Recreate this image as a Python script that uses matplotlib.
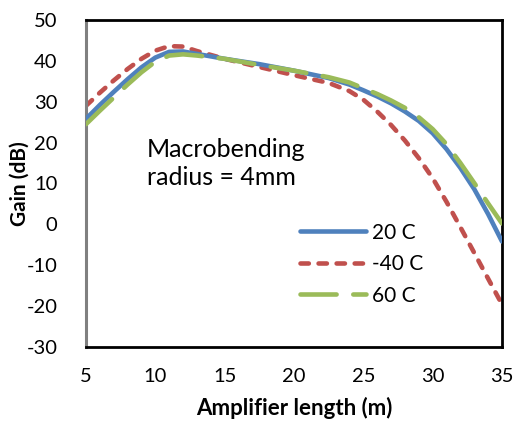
import matplotlib
matplotlib.use("Agg")
import matplotlib.pyplot as plt

plt.rcParams['font.family'] = ['Lato', 'DejaVu Sans']
plt.rcParams['lines.scale_dashes'] = False
plt.rcParams['axes.unicode_minus'] = False

length = [5, 6, 7, 8, 9, 10, 11, 12, 13, 15, 17.5, 20, 22.5, 24, 25, 26, 27, 28, 29, 30, 31, 32, 33, 34, 35]
gain_20C = [25.8, 29.2, 32.4, 35.5, 38.4, 40.8, 42.2, 42.3, 41.7, 40.5, 39.2, 37.6, 35.8, 34.2, 32.8,
            31.3, 29.6, 27.6, 25.3, 22.3, 18.4, 13.8, 8.6, 2.5, -4.2]
gain_m40C = [29.0, 32.2, 35.2, 38.0, 40.5, 42.5, 43.6, 43.5, 42.4, 40.5, 38.5, 36.5, 34.6, 32.6, 30.5,
             27.6, 24.3, 20.5, 16.2, 11.3, 5.5, -0.7, -7.0, -13.3, -19.6]
gain_60C = [24.5, 27.8, 31.0, 34.2, 37.2, 39.8, 41.3, 41.6, 41.3, 40.5, 39.0, 37.6, 36.0, 34.7, 33.3,
            31.9, 30.3, 28.5, 26.2, 23.3, 19.6, 15.0, 10.1, 5.1, 0.2]
labels = ["20 C", "-40 C", "60 C"]
xticks = [5, 10, 15, 20, 25, 30, 35]
yticks = [-30, -20, -10, 0, 10, 20, 30, 40, 50]

fig = plt.figure(figsize=(5.21, 4.23), dpi=100)
ax = fig.add_axes([0.165, 0.18, 0.7985, 0.7727])

ax.plot(length, gain_20C, color='#4F81BD', lw=3.3, solid_capstyle='round', solid_joinstyle='round',
        label=labels[0], zorder=3)
ax.plot(length, gain_m40C, color='#C0504D', lw=3.3, linestyle=(0, (6, 7)), dash_capstyle='round',
        label=labels[1], zorder=2)
ax.plot(length, gain_60C, color='#9BBB59', lw=3.3, linestyle=(0, (26, 12)), dash_capstyle='round',
        label=labels[2], zorder=4)

ax.set_xlim(5, 35)
ax.set_ylim(-30, 50)
ax.set_xticks(xticks)
ax.set_yticks(yticks)
ax.tick_params(axis='both', length=0, labelsize=14.5)
ax.tick_params(axis='x', pad=15)
ax.tick_params(axis='y', pad=20.5)

for s in ['top', 'right', 'bottom']:
    ax.spines[s].set_color('black')
    ax.spines[s].set_linewidth(2)
ax.spines['left'].set_color('#808080')
ax.spines['left'].set_linewidth(2.2)

ax.set_xlabel("Amplifier length (m)", fontsize=16, fontweight='bold', labelpad=9)
ax.set_ylabel("Gain (dB)", fontsize=15, fontweight='bold', labelpad=-2)

ax.text(0.147, 0.56, "Macrobending\nradius = 4mm", transform=ax.transAxes, fontsize=18,
        va='center', ha='left', linespacing=1.27)

leg = ax.legend(loc='upper left', bbox_to_anchor=(0.514, 0.38), frameon=False, fontsize=15,
                handlelength=3.2, handletextpad=0.25, labelspacing=0.55, borderaxespad=0,
                borderpad=0)

fig.savefig("out.png", dpi=100)
